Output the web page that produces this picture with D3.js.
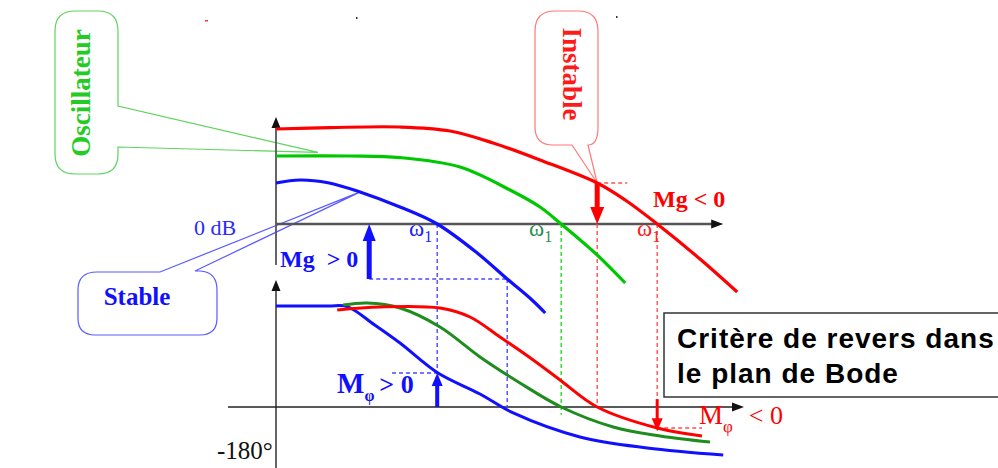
<!DOCTYPE html>
<html><head><meta charset="utf-8">
<script src="https://cdn.jsdelivr.net/npm/d3@7"></script>
<style>
html,body{margin:0;padding:0;background:#fff;}
svg{display:block;}
text{white-space:pre;}
</style></head>
<body>
<svg id="c" width="998" height="468"></svg>
<script>
// ---- data (x: log-frequency units, gain: dB, phase: degrees) ----
const systems = ["Stable", "Oscillateur", "Instable"];
const gainBlue  = [[0,10.25],[0.6,11],[1.3,10.3],[2.1,8],[3.1,4.25],[4.03,0],[5.03,-7.25],[5.78,-13.75],[6.4,-19],[6.73,-22.25]];
const gainGreen = [[0,17],[1.85,17],[3.1,16.6],[4.6,14.25],[5.85,8.5],[6.6,4.25],[7.13,0],[8.03,-7.75],[8.73,-14.75]];
const gainRed   = [[0,23.75],[1.35,24.1],[3.1,24.25],[4.35,23.25],[5.43,20.25],[6.6,16],[8.03,10.25],[8.73,6],[9.53,0],[10.6,-8.75],[11.53,-17]];
const phaseBlue  = [[0,-90],[1.3,-90],[1.78,-90.5],[2.45,-106.5],[3.1,-123],[4.05,-149.7],[5.1,-168.4],[5.93,-185.3],[7.6,-206.7],[9.28,-216.5],[11.18,-222.8]];
const phaseGreen = [[1.68,-89.1],[2.28,-87.3],[3.1,-91.8],[4.1,-108.7],[5.1,-135.4],[6.1,-158.6],[7.13,-180],[8.43,-197.8],[9.6,-205.8],[10.85,-211.2]];
const phaseRed   = [[1.53,-93.6],[2.6,-90.9],[4.1,-91.8],[4.85,-99.8],[5.6,-117.6],[6.43,-138.1],[7.1,-155.9],[8.03,-180],[9.53,-198.7],[10.65,-205.8]];
// crossover frequencies and margins
const omega1   = [4.03, 7.13, 9.53];     // gain crossover (0 dB)
const omega180 = [5.78, 7.13, 8.03];     // phase crossover (-180°)
const gainAt180 = [-13.75, 0, 10.25];
const phaseAtW1 = [-149.7, -180, -198.7];
const tickLabels = ["0 dB", "-180°"];

// ---- scales ----
const svg = d3.select("#c");
const x  = d3.scaleLinear().domain([0, 12]).range([276, 756]);
const yG = d3.scaleLinear().domain([0, 20]).range([224, 144]);
const yP = d3.scaleLinear().domain([-90, -180]).range([306, 407]);

const cBlue = "#1010ff", cGreen = "#00c800", cGreenP = "#1e8c1e", cRed = "#ff0000";
const serif = "'Liberation Serif','Times New Roman',serif";

const lineG = d3.line().x(d => x(d[0])).y(d => yG(d[1])).curve(d3.curveCatmullRom.alpha(0.5));
const lineP = d3.line().x(d => x(d[0])).y(d => yP(d[1])).curve(d3.curveCatmullRom.alpha(0.5));

// ---- callouts ----
{
  const tx = x(1.05), ty = yG(17.9);
  const p = `M75,11 H98 Q118,11 118,31 V106 L${tx},${ty} L118,147 V154 Q118,174 98,174 H75 Q55,174 55,154 V31 Q55,11 75,11 Z`;
  svg.append("path").attr("d", p).attr("fill", "none").attr("stroke", "#5fd35f").attr("stroke-width", 1.2);
}
{
  const tx = x(8.03), ty = yG(10.25);
  const p = `M555,11 H578 Q598,11 598,31 V127 Q598,145 588,145 L${tx},${ty} L572,145 H553 Q535,145 535,127 V31 Q535,11 555,11 Z`;
  svg.append("path").attr("d", p).attr("fill", "none").attr("stroke", "#ff7878").attr("stroke-width", 1.2);
}
{
  const tx = x(2.12), ty = yG(8.1);
  const p = `M97,272 H160 L${tx},${ty} L195,271 H200 Q217,272 217,290 V318 Q217,335 200,335 H95 Q78,335 78,318 V290 Q78,272 97,272 Z`;
  svg.append("path").attr("d", p).attr("fill", "none").attr("stroke", "#5a5aff").attr("stroke-width", 1.2);
}

// ---- axes ----
function arrowHead(xt, yt, dir, color, w, l) {
  let pts;
  if (dir === "up") pts = [[xt, yt], [xt - w/2, yt + l], [xt + w/2, yt + l]];
  else if (dir === "down") pts = [[xt, yt], [xt - w/2, yt - l], [xt + w/2, yt - l]];
  else pts = [[xt, yt], [xt - l, yt - w/2], [xt - l, yt + w/2]];
  svg.append("polygon").attr("points", pts.map(p => p.join(",")).join(" ")).attr("fill", color);
}
svg.append("line").attr("x1", x(0)).attr("x2", x(0)).attr("y1", yG(-10.25)).attr("y2", yG(25)).attr("stroke", "#555").attr("stroke-width", 1.8);
arrowHead(x(0), yG(26.75), "up", "#111", 9, 11);
svg.append("line").attr("x1", x(0)).attr("x2", x(10.95)).attr("y1", yG(0)).attr("y2", yG(0)).attr("stroke", "#555").attr("stroke-width", 2.4);
arrowHead(x(11.18), yG(0), "right", "#111", 9, 12);
svg.append("line").attr("x1", x(0)).attr("x2", x(0)).attr("y1", 468).attr("y2", yP(-72)).attr("stroke", "#333").attr("stroke-width", 1.5);
arrowHead(x(0), yP(-66.8), "up", "#111", 9, 11);
svg.append("line").attr("x1", x(-1.2)).attr("x2", x(11.45)).attr("y1", yP(-180)).attr("y2", yP(-180)).attr("stroke", "#222").attr("stroke-width", 1.5);
arrowHead(x(11.7), yP(-180), "right", "#111", 9, 12);

// ---- dashed guides ----
function dash(x1, y1, x2, y2, color) {
  svg.append("line").attr("x1", x1).attr("y1", y1).attr("x2", x2).attr("y2", y2)
    .attr("stroke", color).attr("stroke-width", 1.4).attr("stroke-dasharray", "4,3");
}
dash(x(2.33), yG(gainAt180[0]), x(omega180[0]), yG(gainAt180[0]), "#4a4aff");
dash(x(omega180[0]), yG(gainAt180[0]), x(omega180[0]), yP(-180), "#4a4aff");
dash(x(omega1[0]), yG(0), x(omega1[0]), yP(phaseAtW1[0]), "#4a4aff");
dash(x(2.9), yP(phaseAtW1[0]), x(omega1[0]), yP(phaseAtW1[0]), "#4a4aff");
dash(x(omega1[1]), yG(0), x(omega1[1]), yP(-187), "#22dd22");
dash(x(omega180[2]), yG(gainAt180[2]), x(8.78), yG(gainAt180[2]), "#ff5050");
dash(x(omega180[2]), yG(0), x(omega180[2]), yP(-180), "#ff5050");
dash(x(omega1[2]), yG(0), x(omega1[2]), yP(-178), "#ff5050");
dash(x(omega1[2]), yP(phaseAtW1[2]), x(10.65), yP(phaseAtW1[2]), "#ff5050");

// ---- curves ----
const gains = [gainBlue, gainGreen, gainRed];
const gColors = [cBlue, cGreen, cRed];
svg.append("g").selectAll("path").data(gains).join("path")
  .attr("d", lineG).attr("fill", "none").attr("stroke", (d, i) => gColors[i]).attr("stroke-width", 3.2);
const phases = [phaseBlue, phaseGreen, phaseRed];
const pColors = [cBlue, cGreenP, cRed];
svg.append("g").selectAll("path").data(phases).join("path")
  .attr("d", lineP).attr("fill", "none").attr("stroke", (d, i) => pColors[i]).attr("stroke-width", 3);

// ---- margin arrows ----
function vArrow(xp, y1, y2, color, sw, hw, hl) {
  const dir = y2 < y1 ? -1 : 1;
  svg.append("line").attr("x1", xp).attr("x2", xp).attr("y1", y1).attr("y2", y2 - dir * hl * 0.8)
    .attr("stroke", color).attr("stroke-width", sw);
  arrowHead(xp, y2, dir < 0 ? "up" : "down", color, hw, hl);
}
vArrow(x(2.33), yG(gainAt180[0]), yG(0), cBlue, 5, 13, 17);
vArrow(x(omega180[2]), yG(gainAt180[2]), yG(0), cRed, 5, 14, 17);
vArrow(x(omega1[0]), yP(-180), yP(phaseAtW1[0]), cBlue, 4, 11, 13);
vArrow(x(omega1[2]), yP(-173), yP(-201.5), cRed, 3, 11, 13);

// ---- texts ----
function txt(xp, yp, s, o) {
  const t = svg.append("text").attr("x", xp).attr("y", yp).text(s)
    .attr("font-family", o.family || serif).attr("font-size", o.size).attr("fill", o.color)
    .attr("font-weight", o.weight || "normal");
  if (o.anchor) t.attr("text-anchor", o.anchor);
  if (o.transform) t.attr("transform", o.transform);
  return t;
}
txt(0, 0, systems[1], {size: 27, color: "#22cc22", weight: "bold", anchor: "middle", transform: "translate(90,93) rotate(-90)"});
txt(0, 0, systems[2], {size: 27, color: "#ff1a1a", weight: "bold", anchor: "middle", transform: "translate(563,74) rotate(90)"});
txt(137, 305, systems[0], {size: 25, color: cBlue, weight: "bold", anchor: "middle"});
txt(194, 235, tickLabels[0], {size: 22, color: "#2a2aff"});
txt(217, 459, tickLabels[1], {size: 25, color: "#111"});
txt(280, 267, "Mg  > 0", {size: 24, color: cBlue, weight: "bold"});
txt(653, 207, "Mg < 0", {size: 24, color: cRed, weight: "bold"});

const wColors = ["#2020ff", "#2e8b57", "#ff2020"];
const wX = [409, 529, 637];
wX.forEach((xp, i) => {
  const t = svg.append("text").attr("x", xp).attr("y", 236).attr("font-family", serif).attr("fill", wColors[i]);
  t.append("tspan").attr("font-size", 23).text("ω");
  t.append("tspan").attr("font-size", 16).attr("dy", 6).text("1");
});

{
  const t = svg.append("text").attr("x", 337).attr("y", 393).attr("font-family", serif).attr("fill", cBlue).attr("font-weight", "bold");
  t.append("tspan").attr("font-size", 29).text("M");
  t.append("tspan").attr("font-size", 16).attr("dy", 8).text("φ");
  t.append("tspan").attr("font-size", 26).attr("dy", -8).attr("dx", 5).text("> 0");
}
{
  const t = svg.append("text").attr("x", 699).attr("y", 424).attr("font-family", serif).attr("fill", cRed);
  t.append("tspan").attr("font-size", 27).text("M");
  t.append("tspan").attr("font-size", 17).attr("dy", 8).text("φ");
  t.append("tspan").attr("font-size", 26).attr("dy", -8).attr("dx", 16).text("< 0");
}

// title box
svg.append("rect").attr("x", 664).attr("y", 313).attr("width", 345).attr("height", 84)
  .attr("fill", "#fff").attr("stroke", "#333").attr("stroke-width", 1.5);
const sans = "'Liberation Sans',Arial,sans-serif";
txt(677, 348, "Critère de revers dans", {family: sans, size: 28, color: "#000", weight: "bold"}).attr("letter-spacing", 1);
txt(677, 383, "le plan de Bode", {family: sans, size: 28, color: "#000", weight: "bold"}).attr("letter-spacing", 1);

// tiny stray marks of the original
svg.append("rect").attr("x", 205).attr("y", 20).attr("width", 3).attr("height", 1.5).attr("fill", "#f33");
svg.append("rect").attr("x", 356).attr("y", 17).attr("width", 1.5).attr("height", 2).attr("fill", "#333");
svg.append("rect").attr("x", 616).attr("y", 16).attr("width", 1.5).attr("height", 2).attr("fill", "#333");
</script>
</body></html>
